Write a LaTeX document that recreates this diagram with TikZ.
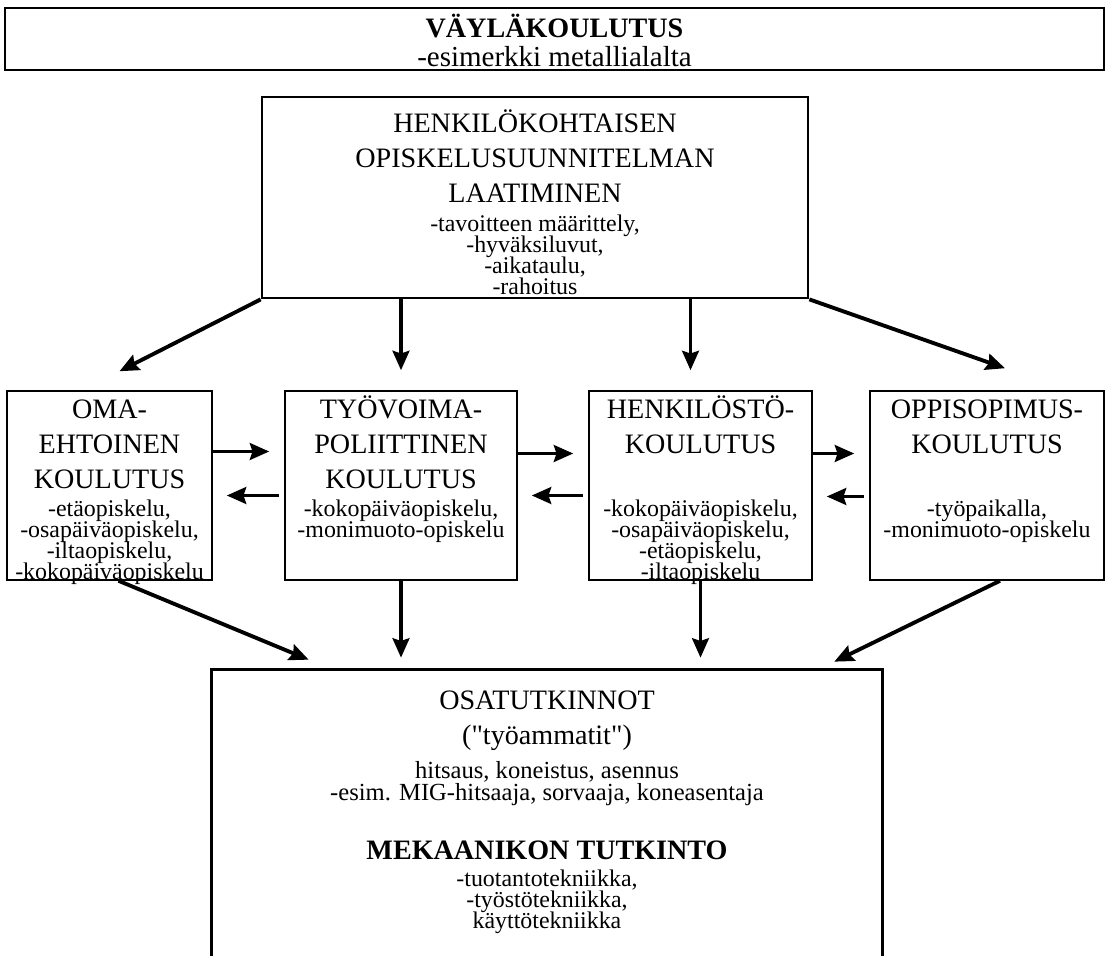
\documentclass[tikz,border=0pt]{standalone}
\usepackage{fontspec}
\setmainfont{Liberation Serif}
\usetikzlibrary{arrows.meta}
\newcommand\lstfont{\fontsize{13.6}{12}\selectfont\lineskiplimit=-20pt}
\tikzset{
  box/.style={draw,line width=0.9pt,inner sep=0pt},
  heavybox/.style={draw,line width=1.6pt,inner sep=0pt},
  head/.style={align=center,inner sep=0pt,font=\fontsize{16}{19.9}\selectfont},
  lst/.style={align=center,inner sep=0pt,font=\lstfont},
  arr/.style={line width=2.2pt,-{Stealth[length=11pt,width=9.5pt,inset=1.5pt]}}
}
\begin{document}
\begin{tikzpicture}[x=0.02cm,y=-0.02cm]
\useasboundingbox (0,0) rectangle (1109,956);
% title
\node[box,minimum width=21.98cm,minimum height=1.24cm] (title) at (554.5,39) {};
\draw (title.north) node[below=0.14cm,inner sep=0pt,font=\fontsize{16}{19}\selectfont\bfseries] {VÄYLÄKOULUTUS};
\draw (title.north) node[below=0.78cm,inner sep=0pt,font=\fontsize{16.5}{19}\selectfont] {-esimerkki metallialalta};

% plan
\node[heavybox,minimum width=10.92cm,minimum height=4.02cm] (plan) at (535,197.5) {};
\draw (plan.north) node[below=0.28cm,head] {HENKILÖKOHTAISEN\\OPISKELUSUUNNITELMAN\\LAATIMINEN};
\draw (plan.north) node[below=2.38cm,lst] {-tavoitteen määrittely,\\-hyväksiluvut,\\-aikataulu,\\-rahoitus};

% forms of training
\node[box,minimum width=4.1cm,minimum height=3.78cm] (oma) at (109.5,485.5) {};
\draw (oma.north) node[below=0.18cm,head] {OMA-\\EHTOINEN\\KOULUTUS};
\draw (oma.north) node[below=2.19cm,lst] {-etäopiskelu,\\-osapäiväopiskelu,\\-iltaopiskelu,\\-kokopäiväopiskelu};
\node[box,minimum width=4.64cm,minimum height=3.78cm] (tyo) at (401,485.5) {};
\draw (tyo.north) node[below=0.1cm,head] {TYÖVOIMA-\\POLIITTINEN\\KOULUTUS};
\draw (tyo.north) node[below=2.19cm,lst] {-kokopäiväopiskelu,\\-monimuoto-opiskelu};
\node[box,minimum width=4.46cm,minimum height=3.78cm] (henk) at (700.5,485.5) {};
\draw (henk.north) node[below=0.1cm,head] {HENKILÖSTÖ-\\KOULUTUS};
\draw (henk.north) node[below=2.19cm,lst] {-kokopäiväopiskelu,\\-osapäiväopiskelu,\\-etäopiskelu,\\-iltaopiskelu};
\node[box,minimum width=4.68cm,minimum height=3.78cm] (oppi) at (987,485.5) {};
\draw (oppi.north) node[below=0.18cm,head] {OPPISOPIMUS-\\KOULUTUS};
\draw (oppi.north) node[below=2.19cm,lst] {-työpaikalla,\\-monimuoto-opiskelu};

% degrees
\node[inner sep=0pt,minimum width=13.4cm,minimum height=5.72cm] (tutk) at (547,813) {};
\draw[line width=1.6pt] (tutk.south west) |- (tutk.north east) -- (tutk.south east);
\draw (tutk.north) node[below=0.41cm,head] {OSATUTKINNOT\\(\textquotedbl työammatit\textquotedbl)};
\draw (tutk.north) node[below=1.82cm,align=center,inner sep=0pt,font=\fontsize{14}{12.5}\selectfont] {hitsaus, koneistus, asennus\\-esim. MIG-hitsaaja, sorvaaja, koneasentaja};
\draw (tutk.north) node[below=3.41cm,inner sep=0pt,font=\fontsize{16}{19}\selectfont\bfseries] {MEKAANIKON TUTKINTO};
\draw (tutk.north) node[below=4.0cm,lst] {-tuotantotekniikka,\\-työstötekniikka,\\käyttötekniikka};

% arrows
\draw[arr] (plan.south west) -- ([xshift=0.2cm,yshift=0.38cm]oma.north);
\draw[arr] (plan.south -| tyo.north) -- ([yshift=0.4cm]tyo.north);
\draw[arr] ([xshift=-0.2cm]plan.south -| henk.north) -- ([xshift=-0.2cm,yshift=0.4cm]henk.north);
\draw[arr] (plan.south east) -- ([xshift=0.36cm,yshift=0.44cm]oppi.north);

\draw[arr,shorten >=0.3cm] ([yshift=0.68cm]oma.east) -- ([yshift=0.68cm]oma.east -| tyo.west);
\draw[arr,shorten <=0.1cm,shorten >=0.28cm] ([yshift=-0.2cm]tyo.west) -- ([yshift=-0.2cm]tyo.west -| oma.east);
\draw[arr,shorten >=0.3cm] ([yshift=0.64cm]tyo.east) -- ([yshift=0.64cm]tyo.east -| henk.west);
\draw[arr,shorten <=0.1cm,shorten >=0.28cm] ([yshift=-0.2cm]henk.west) -- ([yshift=-0.2cm]henk.west -| tyo.east);
\draw[arr,shorten >=0.3cm] ([yshift=0.64cm]henk.east) -- ([yshift=0.64cm]henk.east -| oppi.west);
\draw[arr,shorten <=0.1cm,shorten >=0.28cm] ([yshift=-0.22cm]oppi.west) -- ([yshift=-0.22cm]oppi.west -| henk.east);

\draw[arr] ([xshift=0.18cm]oma.south) -- ([xshift=1.94cm,yshift=0.2cm]tutk.north west);
\draw[arr,shorten >=0.24cm] (tyo.south) -- (tyo.south |- tutk.north);
\draw[arr,shorten >=0.24cm] (henk.south) -- (henk.south |- tutk.north);
\draw[arr] ([xshift=0.26cm]oppi.south) -- ([xshift=-0.96cm,yshift=0.16cm]tutk.north east);
\end{tikzpicture}
\end{document}
